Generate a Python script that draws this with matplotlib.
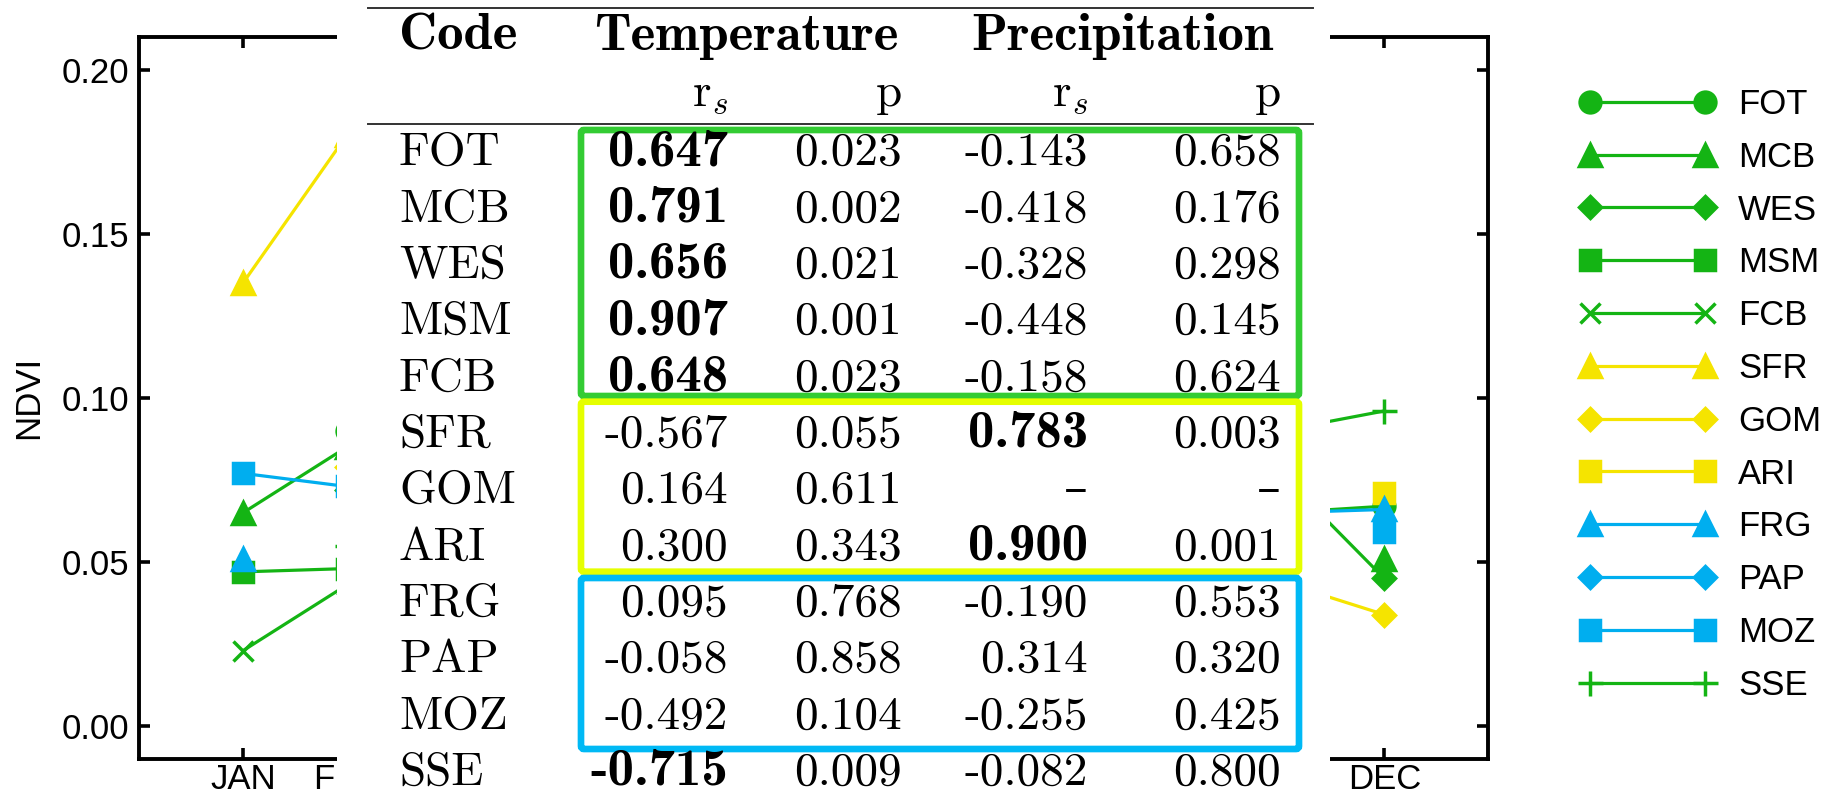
import numpy as np
import matplotlib
matplotlib.use("Agg")
import matplotlib.pyplot as plt
from matplotlib.patches import Rectangle, FancyBboxPatch

plt.rcParams["font.family"] = ["Liberation Sans", "DejaVu Sans"]
plt.rcParams["mathtext.fontset"] = "cm"

nan = np.nan

# monthly NDVI per site
months = ["JAN", "FEB", "MAR", "APR", "MAY", "JUN",
          "JUL", "AUG", "SEP", "OCT", "NOV", "DEC"]
FOT = [nan, 0.090, 0.105, 0.112, 0.108, 0.098, 0.088, 0.080, 0.074, 0.070, 0.065, 0.067]
MCB = [0.065, 0.085, 0.098, 0.104, 0.100, 0.090, 0.080, 0.072, 0.066, 0.060, nan, 0.051]
WES = [nan, 0.072, 0.086, 0.095, 0.098, 0.094, 0.090, 0.086, 0.082, 0.080, 0.077, 0.045]
MSM = [0.047, 0.048, 0.056, 0.064, 0.068, 0.066, 0.060, 0.055, 0.052, 0.050, nan, nan]
FCB = [0.023, 0.043, 0.052, 0.058, 0.060, 0.057, 0.050, 0.044, 0.040, 0.036, nan, nan]
SFR = [0.135, 0.180, 0.176, 0.160, 0.150, 0.142, 0.130, 0.120, 0.112, 0.105, nan, nan]
GOM = [nan, 0.079, 0.076, 0.070, 0.064, 0.060, 0.056, 0.052, 0.050, 0.047, 0.044, 0.034]
ARI = [nan, nan, 0.088, 0.084, 0.080, 0.076, 0.072, 0.070, 0.068, 0.066, nan, 0.071]
FRG = [0.051, nan, 0.060, 0.066, 0.070, 0.072, 0.070, 0.068, 0.066, 0.064, 0.065, 0.066]
PAP = [nan, nan, 0.066, 0.070, 0.072, 0.070, 0.068, 0.066, 0.064, 0.062, 0.060, nan]
MOZ = [0.077, 0.073, 0.070, 0.068, 0.066, 0.064, 0.062, 0.061, 0.060, 0.060, nan, 0.059]
SSE = [nan, 0.055, 0.062, 0.070, 0.076, 0.080, 0.083, 0.085, 0.087, 0.088, 0.090, 0.096]

codes = ["FOT", "MCB", "WES", "MSM", "FCB", "SFR", "GOM", "ARI", "FRG", "PAP", "MOZ", "SSE"]
series = [FOT, MCB, WES, MSM, FCB, SFR, GOM, ARI, FRG, PAP, MOZ, SSE]

# Spearman correlation table: temperature (rs, p), precipitation (rs, p)
temp_rs = ["0.647", "0.791", "0.656", "0.907", "0.648", "-0.567", "0.164", "0.300",
           "0.095", "-0.058", "-0.492", "-0.715"]
temp_p = ["0.023", "0.002", "0.021", "0.001", "0.023", "0.055", "0.611", "0.343",
          "0.768", "0.858", "0.104", "0.009"]
prec_rs = ["-0.143", "-0.418", "-0.328", "-0.448", "-0.158", "0.783", "\u2013", "0.900",
           "-0.190", "0.314", "-0.255", "-0.082"]
prec_p = ["0.658", "0.176", "0.298", "0.145", "0.624", "0.003", "\u2013", "0.001",
          "0.553", "0.320", "0.425", "0.800"]
bold_temp = {"FOT", "MCB", "WES", "MSM", "FCB", "SSE"}
bold_prec = {"SFR", "ARI"}

GREEN = "#14B414"
YELLOW = "#F5E400"
BLUE = "#00AEEF"
colors = [GREEN] * 5 + [YELLOW] * 3 + [BLUE] * 3 + [GREEN]
markers = ["o", "^", "D", "s", "x", "^", "D", "s", "^", "D", "s", "+"]
msizes = {"o": 15, "^": 16, "D": 11, "s": 15, "x": 15, "+": 18}

W, H = 1832, 799
fig = plt.figure(figsize=(W / 100, H / 100), dpi=100)
ax = fig.add_axes([139.3 / W, 1 - 759 / H, (1488 - 139.3) / W, (759 - 36.7) / H])

x = np.arange(len(months))
handles = []
for code, vals, col, mk in zip(codes, series, colors, markers):
    ln, = ax.plot(x, vals, color=col, lw=2.3, marker=mk, ms=msizes[mk],
                  mfc=col, mec=col, mew=2.5, label=code)
    handles.append(ln)

ax.set_xlim(-1, 12)
ax.set_ylim(-0.01, 0.21)
ax.set_xticks(x)
ax.set_xticklabels(months)
ax.set_yticks([0.00, 0.05, 0.10, 0.15, 0.20])
ax.set_yticklabels(["0.00", "0.05", "0.10", "0.15", "0.20"])
ax.tick_params(direction="in", top=True, right=True, length=8, width=2.6,
               labelsize=25)
ax.tick_params(axis="y", pad=7)
ax.tick_params(axis="x", pad=3)
# MAR..NOV labels sit behind the table panel
for lab in ax.get_xticklabels()[2:11]:
    lab.set_visible(False)
for sp in ax.spines.values():
    sp.set_linewidth(2.8)
ax.set_ylabel("NDVI", fontsize=25, labelpad=12)

fig.legend(handles, codes, loc="upper left",
           bbox_to_anchor=(1580 / W, 1 - 88 / H), frameon=False,
           fontsize=25, numpoints=2, handlelength=3.9, handletextpad=0.66,
           labelspacing=0.57, borderpad=0, borderaxespad=0)

# table overlay drawn in pixel coordinates
tab = fig.add_axes([0, 0, 1, 1], zorder=5)
tab.set_xlim(0, W)
tab.set_ylim(H, 0)
tab.axis("off")
tab.add_patch(Rectangle((337.3, 0), 1330 - 337.3, H, facecolor="white",
                        edgecolor="none"))
tab.plot([368, 1313], [8.3, 8.3], color="#333333", lw=1.4)
tab.plot([368, 1313], [124, 124], color="#333333", lw=1.4)

rm = dict(family=["cmr10", "DejaVu Serif"], fontsize=34, va="baseline")
bf = dict(family=["cmb10", "DejaVu Serif"], fontsize=38, va="baseline")

tab.text(399, 50, "Code", ha="left", **bf)
tab.text(746, 50, "Temperature", ha="center", **bf)
tab.text(1122, 50, "Precipitation", ha="center", **bf)
col_right = [728, 902, 1088, 1281]
for cx, lab in zip(col_right, [r"$\mathrm{r}_s$", "p", r"$\mathrm{r}_s$", "p"]):
    tab.text(cx, 106, lab, ha="right", fontsize=34, va="baseline",
             family=["cmr10", "DejaVu Serif"])

row0, pitch = 165, 56.36
for i, code in enumerate(codes):
    yb = row0 + i * pitch
    tab.text(399, yb, code, ha="left", **rm)
    cells = [temp_rs[i], temp_p[i], prec_rs[i], prec_p[i]]
    bolds = [code in bold_temp, False, code in bold_prec, False]
    for cx, txt, b in zip(col_right, cells, bolds):
        tab.text(cx, yb, txt, ha="right", **(bf if b else rm))

# coloured group frames
frames = [(130, 396, "#33CC33"), (401.7, 571.7, "#E5FF00"), (578, 749, "#00B9F5")]
for top, bot, c in frames:
    tab.add_patch(FancyBboxPatch((581, top), 1299 - 581, bot - top,
                                 boxstyle="round,pad=0,rounding_size=3",
                                 facecolor="none", edgecolor=c, lw=4.8))

fig.savefig("out.png", dpi=100)
